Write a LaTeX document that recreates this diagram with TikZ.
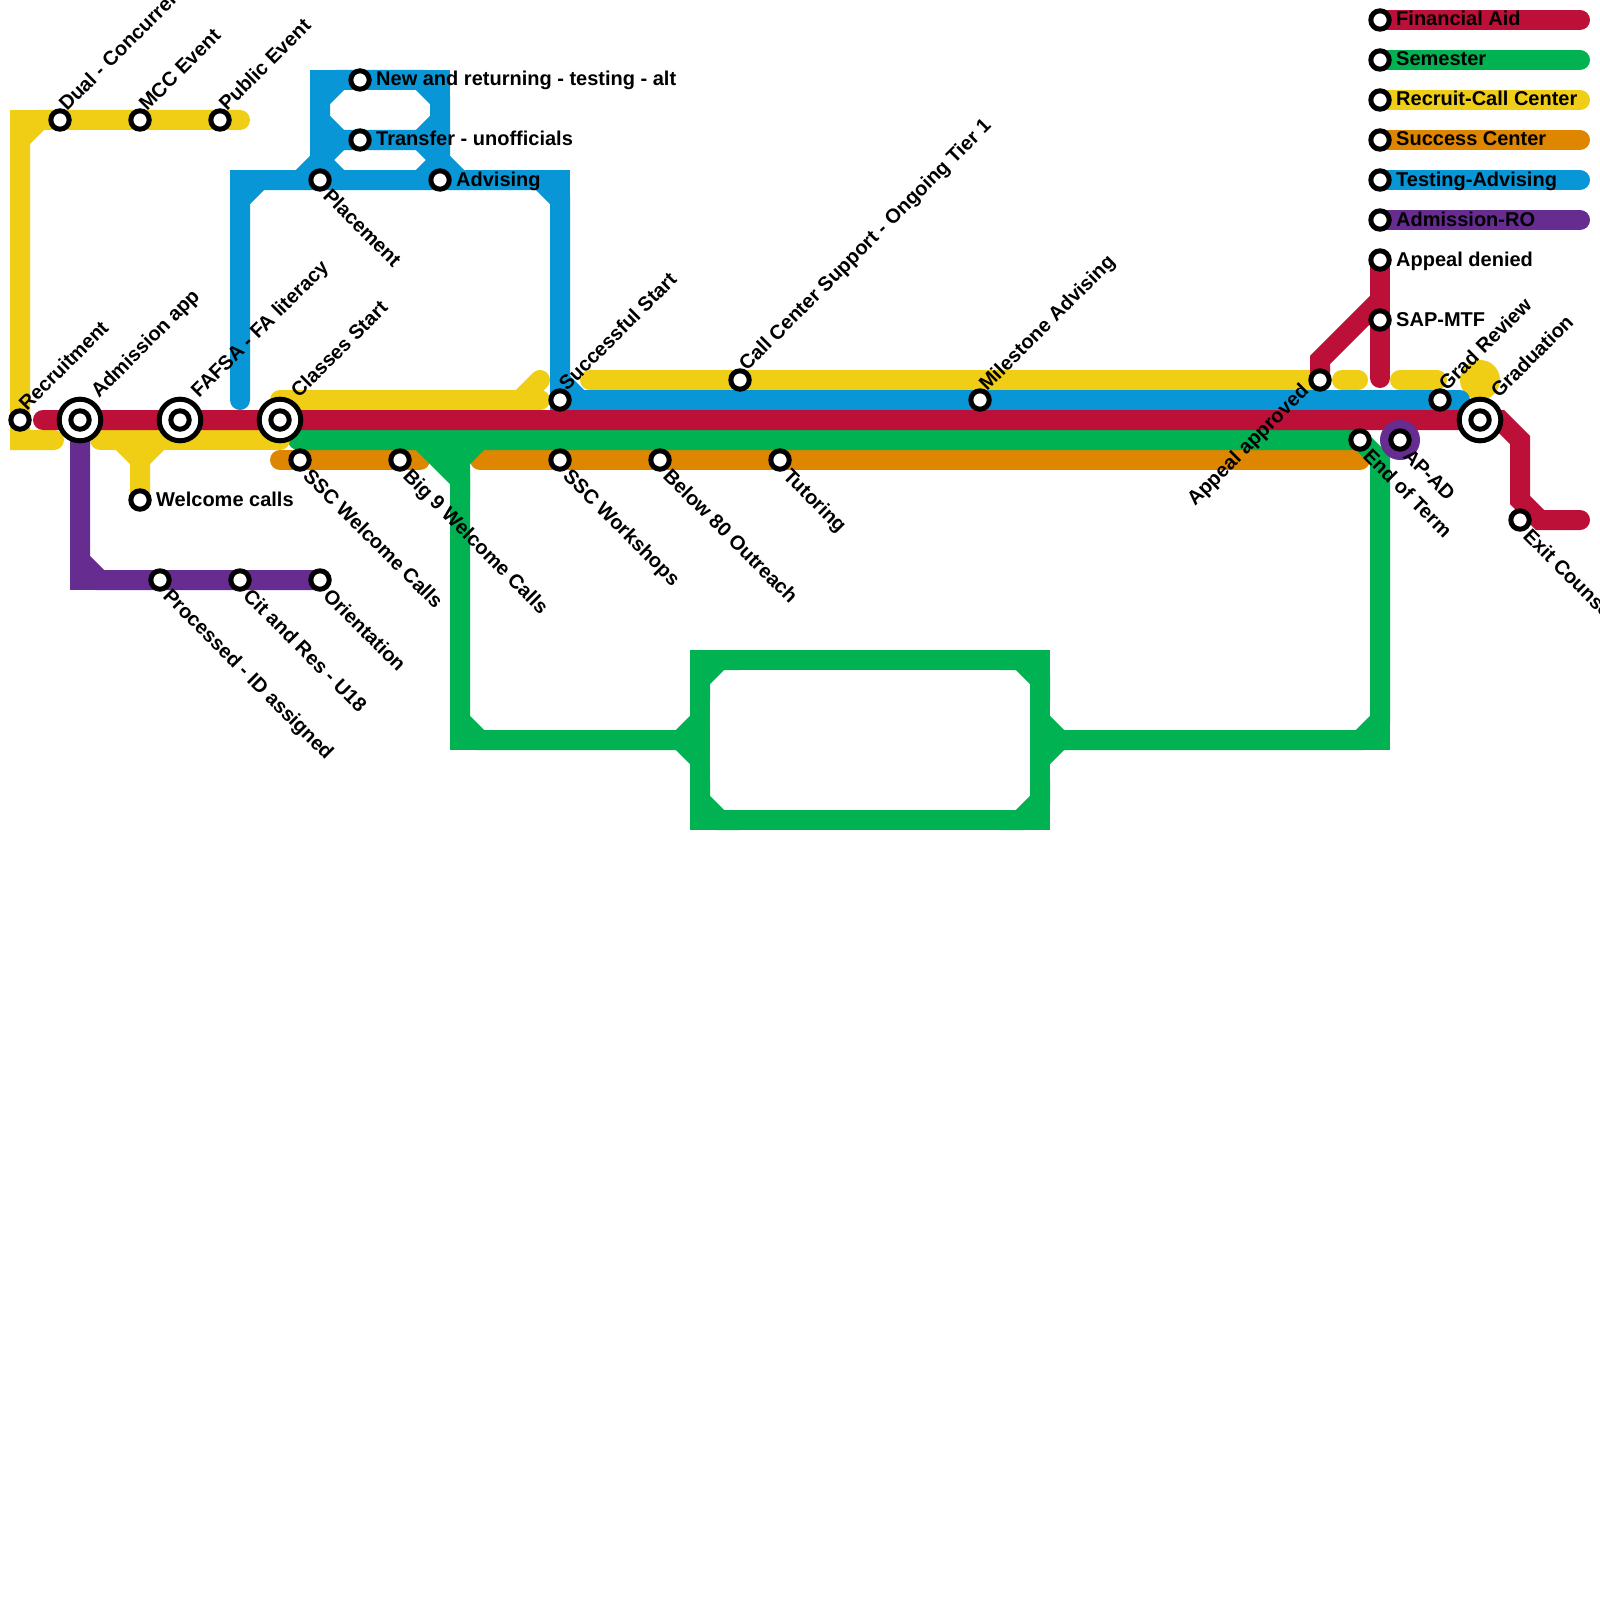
\documentclass[tikz,border=0pt]{standalone}
\usepackage{fontspec}
\setmainfont{Liberation Sans}
\definecolor{mred}{HTML}{BD1038}
\definecolor{morange}{HTML}{DF8600}
\definecolor{myellow}{HTML}{F0CE15}
\definecolor{mgreen}{HTML}{00B251}
\definecolor{mblue}{HTML}{0896D7}
\definecolor{mpurple}{HTML}{662C90}
\begin{document}
\begin{tikzpicture}[x=1pt,y=-1pt,
  ln/.style={line width=20pt, line cap=round, line join=round},
  lnm/.style={line width=20pt, line cap=round, line join=miter},
  sqr/.style={line width=20pt, line cap=butt, line join=miter},
  stn/.style={circle, draw=black, fill=white, line width=5pt, minimum size=18.4pt, inner sep=0pt},
  xstn/.style={circle, draw=black, fill=white, line width=5pt, minimum size=41.6pt, inner sep=0pt},
  lbl/.style={inner sep=0pt, font=\bfseries\fontsize{20}{24}\selectfont, text=black},
  lne/.style={lbl, rotate=45, anchor=base west},
  lse/.style={lbl, rotate=-45, anchor=base west},
  lee/.style={lbl, anchor=base west}]
\fill[white] (0,0) rectangle (1600,1600);
\useasboundingbox (0,0) rectangle (1600,1600);

% ---------- Success Center (orange)
\draw[ln, morange] (280,460) -- (420,460);
\draw[ln, morange] (480,460) -- (1360,460);

% ---------- Semester (green)
\draw[lnm, mgreen] (298,440) -- (1360,440) -- (1380,460) -- (1380,720) -- (1360,740) -- (1060,740);
\draw[sqr, mgreen] (1380,700) -- (1380,740) -- (1340,740);
\draw[lnm, mgreen] (420,440) -- (460,480) -- (460,720) -- (480,740) -- (680,740);
\draw[sqr, mgreen] (460,700) -- (460,740) -- (500,740);
\draw[lnm, mgreen] (480,440) -- (460,460) -- (460,500);
\draw[sqr, mgreen] (460,440) -- (460,500);
\fill[mgreen] (435,448) -- (480,448) -- (462,470) -- (450,470) -- cycle;
\draw[sqr, mgreen] (700,660) rectangle (1040,820);
\draw[sqr, mgreen] (700,700) -- (700,680) -- (720,660) -- (740,660);
\draw[sqr, mgreen] (1000,660) -- (1020,660) -- (1040,680) -- (1040,700);
\draw[sqr, mgreen] (700,780) -- (700,800) -- (720,820) -- (740,820);
\draw[sqr, mgreen] (1000,820) -- (1020,820) -- (1040,800) -- (1040,780);
\draw[lnm, mgreen] (700,720) -- (680,740) -- (700,760);
\draw[lnm, mgreen] (1040,720) -- (1060,740) -- (1040,760);

% ---------- Recruit-Call Center (yellow)
\draw[lnm, myellow] (240,120) -- (40,120) -- (20,140) -- (20,440) -- (54,440);
\draw[sqr, myellow] (20,160) -- (20,120) -- (60,120);
\draw[lnm, myellow] (120,440) -- (140,460) -- (140,500);
\draw[lnm, myellow] (160,440) -- (140,460);
\draw[ln, myellow] (100,440) -- (280,440) -- (280,400) -- (540,400);
\draw[ln, myellow] (520,400) -- (540,380);
\draw[ln, myellow] (590,380) -- (1320,380);
\draw[ln, myellow] (1342,380) -- (1358,380);
\draw[ln, myellow] (1400,380) -- (1437,380);
\fill[myellow] (1480,380) circle[radius=20pt];

% ---------- Testing-Advising (blue)
\draw[lnm, mblue] (240,400) -- (240,200) -- (260,180) -- (540,180) -- (560,200) -- (560,380) -- (580,400) -- (1460,400);
\draw[sqr, mblue] (240,220) -- (240,180) -- (280,180);
\draw[sqr, mblue] (520,180) -- (560,180) -- (560,220);
\draw[sqr, mblue] (560,360) -- (560,400) -- (600,400);
\draw[lnm, mblue] (300,180) -- (320,160) -- (320,100) -- (340,80) -- (420,80) -- (440,100) -- (440,160) -- (460,180);
\draw[sqr, mblue] (320,120) -- (320,80) -- (440,80) -- (440,120);
\draw[lnm, mblue] (320,120) -- (340,140) -- (420,140) -- (440,120);
\draw[lnm, mblue] (320,160) -- (340,140);
\draw[lnm, mblue] (420,140) -- (440,160);
\draw[lnm, mblue] (320,160) -- (340,180);
\draw[lnm, mblue] (440,160) -- (420,180);

% ---------- Financial Aid (red)
\draw[lnm, mred] (43,420) -- (1500,420) -- (1520,440) -- (1520,500) -- (1540,520) -- (1580,520);
\draw[lnm, mred] (1320,380) -- (1320,360) -- (1380,300);
\draw[ln, mred] (1380,260) -- (1380,378);

% ---------- Admission-RO (purple)
\draw[lnm, mpurple] (80,420) -- (80,560) -- (100,580) -- (320,580);
\draw[sqr, mpurple] (80,540) -- (80,580) -- (120,580);
\fill[mpurple] (1400,440) circle[radius=20pt];

% ---------- Legend bars
\draw[ln, mred] (1380,20) -- (1580,20);
\draw[ln, mgreen] (1380,60) -- (1580,60);
\draw[ln, myellow] (1380,100) -- (1580,100);
\draw[ln, morange] (1380,140) -- (1580,140);
\draw[ln, mblue] (1380,180) -- (1580,180);
\draw[ln, mpurple] (1380,220) -- (1580,220);

% ---------- Stations
\node[stn] (recruit) at (20,420) {};
\node[stn] (dual) at (60,120) {};
\node[stn] (mcc) at (140,120) {};
\node[stn] (public) at (220,120) {};
\node[xstn] (admX) at (80,420) {};
\node[stn] (adm) at (80,420) {};
\node[xstn] (fafsaX) at (180,420) {};
\node[stn] (fafsa) at (180,420) {};
\node[xstn] (classesX) at (280,420) {};
\node[stn] (classes) at (280,420) {};
\node[stn] (welcome) at (140,500) {};
\node[stn] (processed) at (160,580) {};
\node[stn] (citres) at (240,580) {};
\node[stn] (orient) at (320,580) {};
\node[stn] (sscwc) at (300,460) {};
\node[stn] (big9) at (400,460) {};
\node[stn] (newret) at (360,80) {};
\node[stn] (transfer) at (360,140) {};
\node[stn] (placement) at (320,180) {};
\node[stn] (advising) at (440,180) {};
\node[stn] (success) at (560,400) {};
\node[stn] (sscws) at (560,460) {};
\node[stn] (below80) at (660,460) {};
\node[stn] (tutoring) at (780,460) {};
\node[stn] (callc) at (740,380) {};
\node[stn] (milestone) at (980,400) {};
\node[stn] (apappr) at (1320,380) {};
\node[stn] (endterm) at (1360,440) {};
\node[stn] (apad) at (1400,440) {};
\node[stn] (gradrev) at (1440,400) {};
\node[xstn] (gradX) at (1480,420) {};
\node[stn] (grad) at (1480,420) {};
\node[stn] (exitc) at (1520,520) {};
\node[stn] (apden) at (1380,260) {};
\node[stn] (sapmtf) at (1380,320) {};
\node[stn] (lgA) at (1380,20) {};
\node[stn] (lgB) at (1380,60) {};
\node[stn] (lgC) at (1380,100) {};
\node[stn] (lgD) at (1380,140) {};
\node[stn] (lgE) at (1380,180) {};
\node[stn] (lgF) at (1380,220) {};

% ---------- Labels: up-right
\node[lne] (tDual) at ([shift={(7,-8)}]dual.center) {Dual - Concurrent};
\node[lne] (tMcc) at ([shift={(7,-8)}]mcc.center) {MCC Event};
\node[lne] (tPublic) at ([shift={(7,-8)}]public.center) {Public Event};
\node[lne] (tRecruit) at ([shift={(7,-8)}]recruit.center) {Recruitment};
\node[lne] (tSuccess) at ([shift={(7,-8)}]success.center) {Successful Start};
\node[lne] (tCallc) at ([shift={(7,-8)}]callc.center) {Call Center Support - Ongoing Tier 1};
\node[lne] (tMilestone) at ([shift={(7,-8)}]milestone.center) {Milestone Advising};
\node[lne] (tGradrev) at ([shift={(7,-8)}]gradrev.center) {Grad Review};
\node[lne] (tAdm) at ([shift={(19,-21)}]adm.center) {Admission app};
\node[lne] (tFafsa) at ([shift={(19,-21)}]fafsa.center) {FAFSA - FA literacy};
\node[lne] (tClasses) at ([shift={(19,-21)}]classes.center) {Classes Start};
\node[lne] (tGrad) at ([shift={(19,-21)}]grad.center) {Graduation};
\node[lbl, rotate=45, anchor=base east] (tApappr) at ([shift={(-10,12)}]apappr.center) {Appeal approved};

% ---------- Labels: down-right
\node[lse] (tPlacement) at ([shift={(2,17)}]placement.center) {Placement};
\node[lse] (tSscwc) at ([shift={(2,17)}]sscwc.center) {SSC Welcome Calls};
\node[lse] (tBig9) at ([shift={(2,17)}]big9.center) {Big 9 Welcome Calls};
\node[lse] (tSscws) at ([shift={(2,17)}]sscws.center) {SSC Workshops};
\node[lse] (tBelow) at ([shift={(2,17)}]below80.center) {Below 80 Outreach};
\node[lse] (tTutor) at ([shift={(2,17)}]tutoring.center) {Tutoring};
\node[lse] (tProc) at ([shift={(2,17)}]processed.center) {Processed - ID assigned};
\node[lse] (tCit) at ([shift={(2,17)}]citres.center) {Cit and Res - U18};
\node[lse] (tOrient) at ([shift={(2,17)}]orient.center) {Orientation};
\node[lse] (tEnd) at ([shift={(2,17)}]endterm.center) {End of Term};
\node[lse] (tApad) at ([shift={(2,17)}]apad.center) {AP-AD};
\node[lse] (tExit) at ([shift={(2,17)}]exitc.center) {Exit Counseling};

% ---------- Labels: horizontal
\node[lee] (tNewret) at ([shift={(16,6)}]newret.center) {New and returning - testing - alt};
\node[lee] (tTransfer) at ([shift={(16,6)}]transfer.center) {Transfer - unofficials};
\node[lee] (tAdvising) at ([shift={(16,6)}]advising.center) {Advising};
\node[lee] (tWelcome) at ([shift={(16,6)}]welcome.center) {Welcome calls};
\node[lee] (tApden) at ([shift={(16,6)}]apden.center) {Appeal denied};
\node[lee] (tSap) at ([shift={(16,6)}]sapmtf.center) {SAP-MTF};
\node[lee] (tLgA) at ([shift={(16,6)}]lgA.center) {Financial Aid};
\node[lee] (tLgB) at ([shift={(16,6)}]lgB.center) {Semester};
\node[lee] (tLgC) at ([shift={(16,6)}]lgC.center) {Recruit-Call Center};
\node[lee] (tLgD) at ([shift={(16,6)}]lgD.center) {Success Center};
\node[lee] (tLgE) at ([shift={(16,6)}]lgE.center) {Testing-Advising};
\node[lee] (tLgF) at ([shift={(16,6)}]lgF.center) {Admission-RO};
\end{tikzpicture}
\end{document}
